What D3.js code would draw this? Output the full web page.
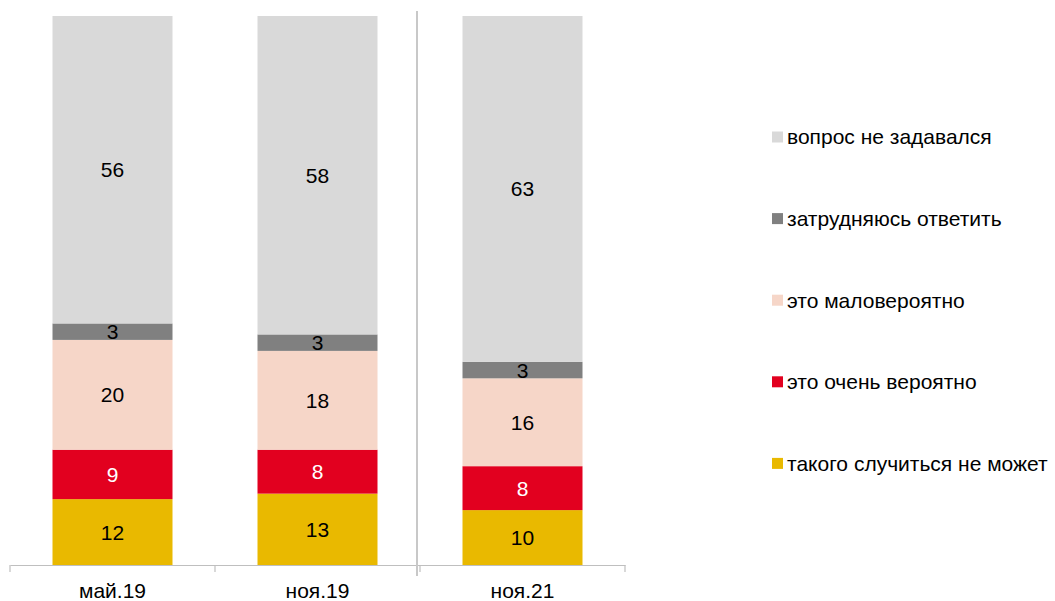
<!DOCTYPE html>
<html><head><meta charset="utf-8">
<script src="https://cdn.jsdelivr.net/npm/d3@7"></script>
<style>body{margin:0;background:#fff}svg{display:block}text{font-family:Arial,"Liberation Sans",sans-serif}</style>
</head><body><svg id="c" width="1055" height="601"></svg>
<script>
const categories = ["май.19", "ноя.19", "ноя.21"];
const seriesNames = ["такого случиться не может", "это очень вероятно", "это маловероятно", "затрудняюсь ответить", "вопрос не задавался"];
const cannotHappen = [12, 13, 10];
const veryLikely = [9, 8, 8];
const unlikely = [20, 18, 16];
const hardToSay = [3, 3, 3];
const notAsked = [56, 58, 63];
const colors = ["#e9b900", "#e2001f", "#f6d6c8", "#808080", "#d9d9d9"];
const labelColors = ["#000", "#fff", "#000", "#000", "#000"];
const FS = 21;

const seriesValues = [cannotHappen, veryLikely, unlikely, hardToSay, notAsked];
const rows = categories.map((c, i) => {
  const r = {cat: c};
  seriesNames.forEach((s, j) => r[s] = seriesValues[j][i]);
  return r;
});
const stack = d3.stack().keys(seriesNames)(rows);

const svg = d3.select("#c");
const x = d3.scaleBand().domain(categories).range([10, 625]).paddingInner(0).paddingOuter(0);
const y = d3.scaleLinear().domain([0, 100]).range([565, 16]);
const barW = 120;

stack.forEach((layer, j) => {
  const g = svg.append("g");
  g.selectAll("rect").data(layer).join("rect")
    .attr("x", d => x(d.data.cat) + x.bandwidth() / 2 - barW / 2)
    .attr("y", d => y(d[1]))
    .attr("width", barW)
    .attr("height", d => y(d[0]) - y(d[1]))
    .attr("fill", colors[j]);
  g.selectAll("text").data(layer).join("text")
    .attr("x", d => x(d.data.cat) + x.bandwidth() / 2)
    .attr("y", d => (y(d[0]) + y(d[1])) / 2)
    .attr("dy", "0.36em")
    .attr("text-anchor", "middle")
    .attr("font-size", FS)
    .attr("fill", labelColors[j])
    .text(d => d[1] - d[0]);
});

// x axis
const axis = svg.append("g").attr("transform", "translate(0,565)")
  .call(d3.axisBottom(x).tickSize(0).tickPadding(18));
axis.select(".domain").attr("stroke", "#bfbfbf").attr("stroke-width", 1.2);
axis.selectAll(".tick text").attr("font-size", FS).attr("fill", "#000")
  .attr("font-family", "Arial, 'Liberation Sans', sans-serif");
// category boundary ticks
const bounds = [10, 215, 420, 625];
svg.append("g").selectAll("line").data(bounds).join("line")
  .attr("x1", d => d).attr("x2", d => d)
  .attr("y1", 565).attr("y2", 572)
  .attr("stroke", "#bfbfbf").attr("stroke-width", 1.2);

// separator
svg.append("line").attr("x1", x(categories[2]) - 3).attr("x2", x(categories[2]) - 3)
  .attr("y1", 11).attr("y2", 576)
  .attr("stroke", "#c8c8c8").attr("stroke-width", 2);

// legend
const legendOrder = [4, 3, 2, 1, 0];
const lg = svg.append("g");
legendOrder.forEach((j, k) => {
  const cy = 137 + k * 81.6;
  lg.append("rect").attr("x", 772).attr("y", cy - 5.5).attr("width", 11).attr("height", 11).attr("fill", colors[j]);
  lg.append("text").attr("x", 787).attr("y", cy).attr("dy", "0.35em")
    .attr("font-size", FS).attr("fill", "#000").text(seriesNames[j]);
});
</script></body></html>
